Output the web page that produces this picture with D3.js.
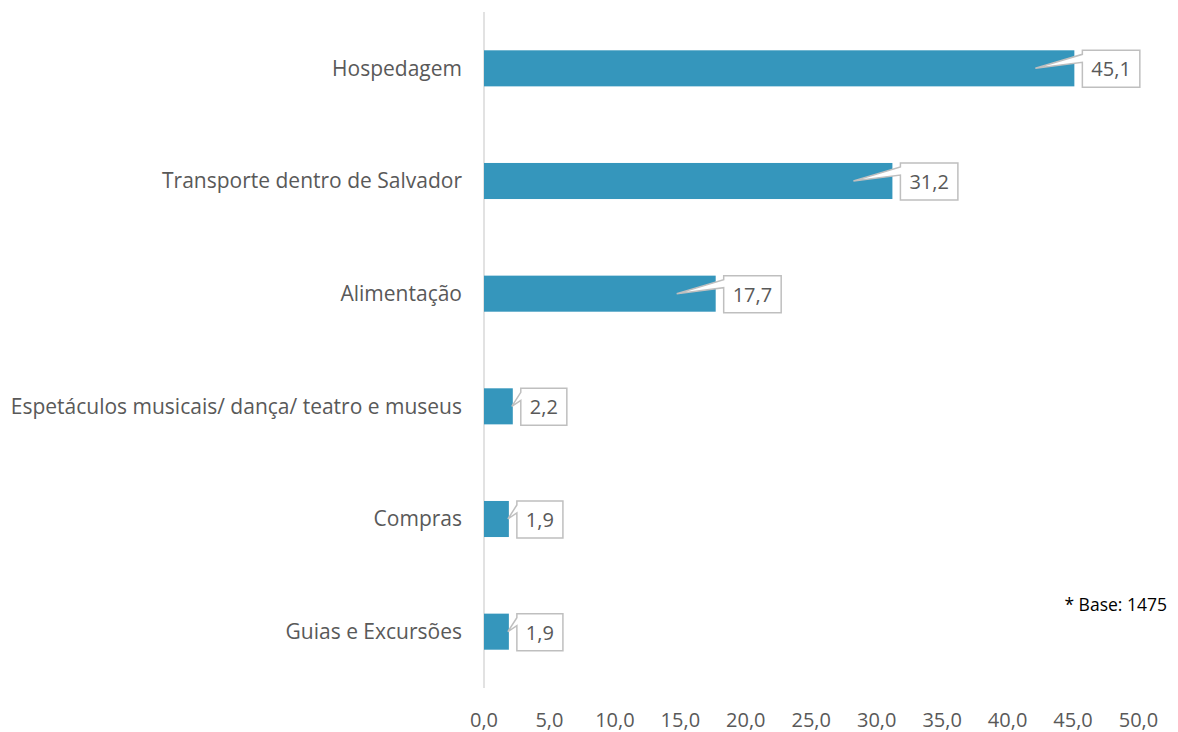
<!DOCTYPE html>
<html><head><meta charset="utf-8">
<script src="https://cdn.jsdelivr.net/npm/d3@7"></script>
<style>body{margin:0;background:#fff}</style>
</head><body>
<svg id="c" width="1178" height="732"></svg>
<script>
const categories = ["Hospedagem","Transporte dentro de Salvador","Alimentação","Espetáculos musicais/ dança/ teatro e museus","Compras","Guias e Excursões"];
const values = [45.1, 31.2, 17.7, 2.2, 1.9, 1.9];
const tickValues = [0,5,10,15,20,25,30,35,40,45,50];
const note = "* Base: 1475";

const FONT = "'Open Sans', sans-serif";
const svg = d3.select("#c");
const x = d3.scaleLinear().domain([0,50]).range([484,1138.5]);
const y = d3.scaleBand().domain(categories).range([12,688]).paddingInner(0.68).paddingOuter(0.34);
const fmt = v => d3.format(".1f")(v).replace(".", ",");

svg.append("line").attr("x1",x(0)).attr("x2",x(0)).attr("y1",12).attr("y2",688)
  .attr("stroke","#d9d9d9").attr("stroke-width",1.5);

svg.selectAll("rect.bar").data(values).join("rect").attr("class","bar")
  .attr("x",x(0)).attr("y",(d,i)=>y(categories[i]))
  .attr("width",d=>x(d)-x(0)).attr("height",y.bandwidth())
  .attr("fill","#3596bc");

svg.selectAll("text.cat").data(categories).join("text").attr("class","cat")
  .attr("x",462).attr("y",d=>y(d)+y.bandwidth()/2).attr("dy","0.35em")
  .attr("text-anchor","end").attr("font-family",FONT).attr("font-size",21)
  .attr("fill","#595959").text(d=>d);

svg.selectAll("text.tick").data(tickValues).join("text").attr("class","tick")
  .attr("x",d=>x(d)).attr("y",720).attr("dy","0.35em").attr("text-anchor","middle")
  .attr("font-family",FONT).attr("font-size",20).attr("fill","#595959").text(fmt);

values.forEach((v,i)=>{
  const cy = y(categories[i]) + y.bandwidth()/2;
  const g = svg.append("g");
  const t = g.append("text").attr("font-family",FONT).attr("font-size",20)
    .attr("fill","#595959").text(fmt(v));
  const tw = t.node().getComputedTextLength();
  const left = x(v) + 8, top = cy - 18, bw = tw + 18, bh = 37;
  const tipX = v > 10 ? x(v) - 39 : x(v) - 1, tipY = cy;
  const p = `M${left},${top}H${left+bw}V${top+bh}H${left}V${top+12}L${tipX},${tipY}L${left},${top+4}Z`;
  g.insert("path","text").attr("d",p).attr("fill","#fff").attr("stroke","#bfbfbf").attr("stroke-width",1.5);
  t.attr("x",left+bw/2).attr("y",cy+1).attr("dy","0.35em").attr("text-anchor","middle");
});

svg.append("text").attr("x",1167).attr("y",605).attr("dy","0.35em").attr("text-anchor","end")
  .attr("font-family",FONT).attr("font-size",17.5).attr("fill","#000").text(note);
</script>
</body></html>
